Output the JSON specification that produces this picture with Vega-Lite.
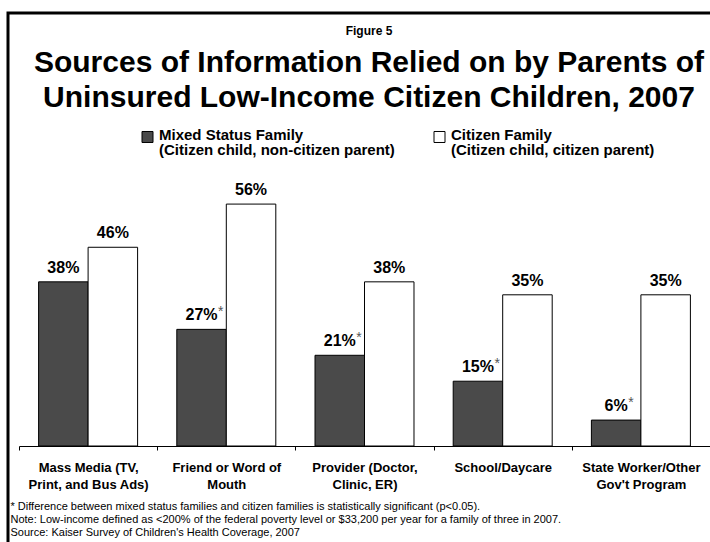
{
  "$schema": "https://vega.github.io/schema/vega-lite/v6.json",
  "width": 702,
  "height": 529,
  "autosize": {"type": "none"},
  "padding": {"left": 8, "top": 13, "right": 0, "bottom": 0},
  "background": "white",
  "config": {
    "font": "Liberation Sans",
    "view": {"stroke": "black", "strokeWidth": 3, "strokeDash": [702, 1231, 529]},
    "style": {"guide-label": {"lineHeight": 15.5}}
  },
  "title": {
    "text": "Figure 5",
    "subtitle": ["Sources of Information Relied on by Parents of", "Uninsured Low-Income Citizen Children, 2007"],
    "anchor": "middle",
    "frame": "group",
    "dx": 10,
    "offset": -101,
    "fontSize": 12,
    "fontWeight": "bold",
    "color": "black",
    "subtitleFont": "Liberation Sans",
    "subtitleFontSize": 30,
    "subtitleFontWeight": "bold",
    "subtitleColor": "black",
    "subtitleLineHeight": 35,
    "subtitlePadding": 10
  },
  "data": {
    "values": [
      {"source": "Mass Media (TV, Print, and Bus Ads)", "group": "Mixed Status Family", "value": 0.38, "sig": false},
      {"source": "Mass Media (TV, Print, and Bus Ads)", "group": "Citizen Family", "value": 0.46, "sig": false},
      {"source": "Friend or Word of Mouth", "group": "Mixed Status Family", "value": 0.27, "sig": true},
      {"source": "Friend or Word of Mouth", "group": "Citizen Family", "value": 0.56, "sig": false},
      {"source": "Provider (Doctor, Clinic, ER)", "group": "Mixed Status Family", "value": 0.21, "sig": true},
      {"source": "Provider (Doctor, Clinic, ER)", "group": "Citizen Family", "value": 0.38, "sig": false},
      {"source": "School/Daycare", "group": "Mixed Status Family", "value": 0.15, "sig": true},
      {"source": "School/Daycare", "group": "Citizen Family", "value": 0.35, "sig": false},
      {"source": "State Worker/Other Gov't Program", "group": "Mixed Status Family", "value": 0.06, "sig": true},
      {"source": "State Worker/Other Gov't Program", "group": "Citizen Family", "value": 0.35, "sig": false}
    ]
  },
  "encoding": {
    "x": {
      "field": "source",
      "type": "nominal",
      "sort": null,
      "scale": {"range": [11, 702], "paddingInner": 0, "paddingOuter": 0},
      "axis": {
        "orient": "bottom",
        "offset": -96,
        "grid": false,
        "labelAngle": 0,
        "labelExpr": "datum.label == 'Mass Media (TV, Print, and Bus Ads)' ? ['Mass Media (TV,', 'Print, and Bus Ads)'] : datum.label == 'Friend or Word of Mouth' ? ['Friend or Word of', 'Mouth'] : datum.label == 'Provider (Doctor, Clinic, ER)' ? ['Provider (Doctor,', 'Clinic, ER)'] : datum.label == 'School/Daycare' ? ['School/Daycare'] : datum.label == \"State Worker/Other Gov't Program\" ? ['State Worker/Other', \"Gov't Program\"] : ''",
        "labelFontSize": 13,
        "labelFontWeight": "bold",
        "labelColor": "black",
        "labelLineHeight": 17.5,
        "labelPadding": 11,
        "labelLimit": 0,
        "tickBand": "extent",
        "tickSize": 4,
        "tickColor": "black",
        "domainColor": "black",
        "title": [
          "* Difference between mixed status families and citizen families is statistically significant (p<0.05).",
          "Note: Low-income defined as <200% of the federal poverty level or $33,200 per year for a family of three in 2007.",
          "Source: Kaiser Survey of Children's Health Coverage, 2007"
        ],
        "titleX": 2,
        "titleY": 63,
        "titleAnchor": "start",
        "titleAlign": "left",
        "titleBaseline": "alphabetic",
        "titleFontSize": 11,
        "titleFontWeight": "normal",
        "titleColor": "black",
        "titleLineHeight": 13
      }
    },
    "xOffset": {
      "field": "group",
      "type": "nominal",
      "scale": {"domain": ["Mixed Status Family", "Citizen Family"], "paddingInner": 0, "paddingOuter": 0.396}
    },
    "y": {
      "field": "value",
      "type": "quantitative",
      "scale": {"domain": [-0.2222, 1.0023], "nice": false, "zero": false},
      "axis": null
    }
  },
  "layer": [
    {
      "mark": {"type": "bar", "stroke": "black", "strokeWidth": 1},
      "encoding": {
        "y2": {"datum": 0},
        "color": {
          "field": "group",
          "type": "nominal",
          "scale": {"domain": ["Mixed Status Family", "Citizen Family"], "range": ["#4a4a4a", "#ffffff"]},
          "legend": {
            "orient": "none",
            "legendX": 132,
            "legendY": 107,
            "direction": "horizontal",
            "title": null,
            "symbolType": "M-1,0.727H1V2.727H-1Z",
            "symbolSize": 121,
            "symbolStrokeColor": "black",
            "symbolStrokeWidth": 1,
            "labelFontSize": 15,
            "labelFontWeight": "bold",
            "labelColor": "black",
            "labelOffset": 4,
            "labelLimit": 0,
            "labelBaseline": "top",
            "columnPadding": 37,
            "labelExpr": "datum.label == 'Mixed Status Family' ? ['Mixed Status Family', '(Citizen child, non-citizen parent)'] : ['Citizen Family', '(Citizen child, citizen parent)']"
          }
        }
      }
    },
    {
      "mark": {"type": "text", "fontSize": 16, "fontWeight": "bold", "color": "black", "baseline": "alphabetic", "dy": -9},
      "encoding": {
        "text": {"field": "value", "type": "quantitative", "format": ".0%"}
      }
    },
    {
      "transform": [{"filter": "datum.sig"}],
      "mark": {"type": "text", "text": "*", "fontSize": 14, "color": "#555555", "align": "left", "baseline": "alphabetic", "dy": -13.5, "dx": {"expr": "datum.value < 0.1 ? 12 : 16.5"}}
    }
  ]
}
